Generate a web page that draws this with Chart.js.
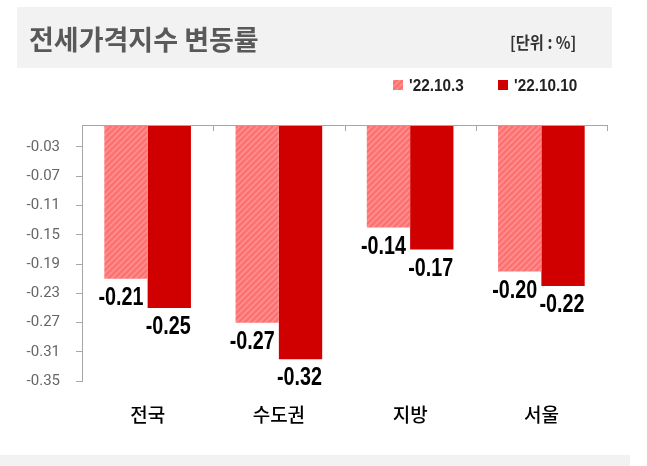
<!DOCTYPE html>
<html>
<head>
<meta charset="utf-8">
<script src="https://cdn.jsdelivr.net/npm/chart.js@4.4.0/dist/chart.umd.min.js"></script>
<style>
  html, body { margin: 0; padding: 0; background: #fff; }
  #wrap { width: 647px; height: 466px; position: relative; }
</style>
</head>
<body>
<div id="wrap"><canvas id="chart" width="647" height="466"></canvas></div>
<script>
const titleText = '전세가격지수 변동률'
const unitText = '[단위 : %]'
const regions = ['전국', '수도권', '지방', '서울']
const seriesNames = ["'22.10.3", "'22.10.10"]
const week1 = [-0.21, -0.27, -0.14, -0.20]
const week2 = [-0.25, -0.32, -0.17, -0.22]
const yTicks = [-0.03, -0.07, -0.11, -0.15, -0.19, -0.23, -0.27, -0.31, -0.35]

// hatched light red fill for the first week
function hatch() {
    const c = document.createElement('canvas')
    c.width = 6
    c.height = 6
    const g = c.getContext('2d')
    g.fillStyle = '#ff7070'
    g.fillRect(0, 0, 6, 6)
    g.strokeStyle = '#ff9090'
    g.lineWidth = 1.6
    g.beginPath()
    g.moveTo(-1, 7); g.lineTo(7, -1)
    g.moveTo(-4, 4); g.lineTo(4, -4)
    g.moveTo(2, 10); g.lineTo(10, 2)
    g.stroke()
    return g.createPattern(c, 'repeat')
}
const lightFill = hatch()
const darkFill = '#d00000'

// narrow text: canvas has no condensed face installed, so squeeze it
function narrowText(ctx, txt, x, y, k) {
    ctx.save()
    ctx.translate(x, y)
    ctx.scale(k, 1)
    ctx.fillText(txt, 0, 0)
    ctx.restore()
}

const decor = {
    id: 'decor',
    beforeDraw(chart) {
        const ctx = chart.ctx
        ctx.save()
        ctx.fillStyle = '#f2f2f2'
        ctx.fillRect(17, 7, 595, 61)
        ctx.fillRect(0, 455, 630, 11)
        ctx.fillStyle = '#595959'
        ctx.font = 'bold 27px "Noto Sans CJK KR"'
        ctx.textBaseline = 'middle'
        ctx.fillText(titleText, 29, 40)
        ctx.fillStyle = '#333'
        ctx.font = 'bold 17px "Noto Sans CJK KR"'
        narrowText(ctx, unitText, 510, 43, 0.9)
        // legend
        const fills = [lightFill, darkFill]
        const xs = [393, 498]
        ctx.font = 'bold 17px "Liberation Sans"'
        seriesNames.forEach((n, i) => {
            ctx.fillStyle = fills[i]
            ctx.fillRect(xs[i], 80, 10, 10)
            ctx.fillStyle = '#222'
            narrowText(ctx, n, xs[i] + 16, 86, 0.9)
        })
        ctx.restore()
    },
    afterDatasetsDraw(chart) {
        const ctx = chart.ctx
        const area = chart.chartArea
        const x = chart.scales.x
        ctx.save()
        // top axis line with inward tick marks at category borders
        ctx.strokeStyle = '#a6a6a6'
        ctx.lineWidth = 1
        ctx.beginPath()
        ctx.moveTo(area.left, area.top + 0.5)
        ctx.lineTo(area.right, area.top + 0.5)
        const step = x.width / regions.length
        for (let i = 0; i <= regions.length; i++) {
            const px = Math.round(x.left + i * step) + 0.5
            ctx.moveTo(px, area.top)
            ctx.lineTo(px, area.top + 6)
        }
        ctx.stroke()
        // value labels under each bar
        ctx.fillStyle = '#000'
        ctx.font = 'bold 26px "Liberation Sans"'
        ctx.textAlign = 'center'
        ctx.textBaseline = 'middle'
        const shift = [-5, -1]
        chart.data.datasets.forEach((ds, di) => {
            chart.getDatasetMeta(di).data.forEach((bar, i) => {
                narrowText(ctx, ds.data[i].toFixed(2), bar.x + shift[di], bar.y + 19, 0.76)
            })
        })
        ctx.restore()
    }
}

const ctx = document.getElementById('chart').getContext('2d')
const chart = new Chart(ctx, {
    type: 'bar',
    data: {
        labels: regions,
        datasets: [
            {
                label: seriesNames[0],
                data: week1,
                backgroundColor: lightFill,
                categoryPercentage: 0.66,
                barPercentage: 1.0
            },
            {
                label: seriesNames[1],
                data: week2,
                backgroundColor: darkFill,
                categoryPercentage: 0.66,
                barPercentage: 1.0
            }
        ]
    },
    options: {
        responsive: false,
        animation: false,
        layout: {
            padding: { left: 0, right: 40, top: 125, bottom: 26 }
        },
        plugins: {
            legend: { display: false },
            title: { display: false },
            tooltip: { enabled: false }
        },
        scales: {
            x: {
                grid: { display: false },
                border: { display: false },
                ticks: {
                    color: '#000',
                    padding: 14,
                    font: { family: '"Noto Sans CJK KR"', size: 19, weight: '500' }
                }
            },
            y: {
                min: -0.35,
                max: 0,
                afterBuildTicks(scale) {
                    scale.ticks = yTicks.map(v => ({ value: v }))
                },
                afterFit(scale) {
                    scale.width = 82
                },
                grid: {
                    drawOnChartArea: false,
                    tickLength: 6,
                    color: '#a6a6a6'
                },
                border: { color: '#a6a6a6' },
                ticks: {
                    color: '#666',
                    padding: 16,
                    font: { family: 'Roboto', size: 15 },
                    callback: v => v.toFixed(2)
                }
            }
        }
    },
    plugins: [decor]
});
</script>
</body>
</html>
